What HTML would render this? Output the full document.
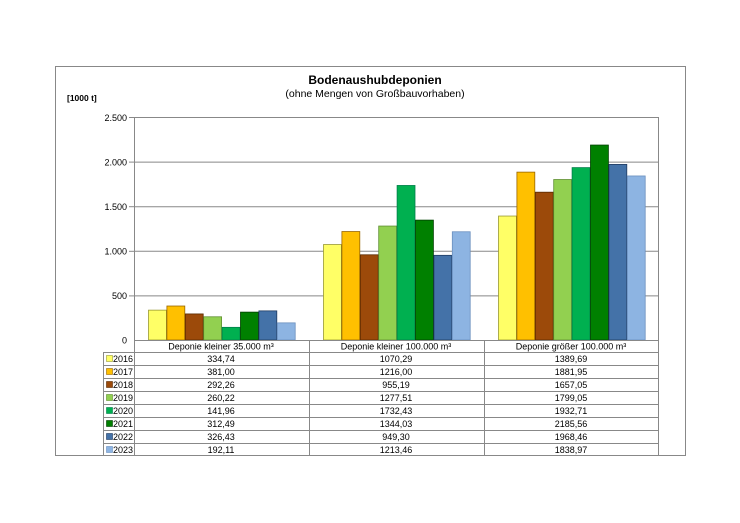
<!DOCTYPE html>
<html><head><meta charset="utf-8"><style>
body{margin:0;background:#fff;width:740px;height:523px;overflow:hidden}
svg{display:block;font-family:"Liberation Sans",sans-serif}
</style></head><body>
<svg id="s" width="740" height="523" viewBox="0 0 740 523">
<rect x="55.5" y="66.5" width="630" height="389" fill="#fff" stroke="#888" stroke-width="1"/>
<text x="375" y="84" text-anchor="middle" font-size="12" font-weight="bold">Bodenaushubdeponien</text>
<text x="375" y="97" text-anchor="middle" font-size="10.5">(ohne Mengen von Großbauvorhaben)</text>
<text x="67" y="101" font-size="8.5" font-weight="bold">[1000 t]</text>
<g stroke="#888" stroke-width="1">
<line x1="134" y1="117.5" x2="659" y2="117.5"/>
<line x1="134" y1="162.1" x2="659" y2="162.1"/>
<line x1="134" y1="206.7" x2="659" y2="206.7"/>
<line x1="134" y1="251.3" x2="659" y2="251.3"/>
<line x1="134" y1="295.9" x2="659" y2="295.9"/>
<line x1="129" y1="117.5" x2="134" y2="117.5"/>
<line x1="129" y1="162.1" x2="134" y2="162.1"/>
<line x1="129" y1="206.7" x2="134" y2="206.7"/>
<line x1="129" y1="251.3" x2="134" y2="251.3"/>
<line x1="129" y1="295.9" x2="134" y2="295.9"/>
</g>
<g font-size="9" text-anchor="end">
<text x="127" y="121">2.500</text>
<text x="127" y="165.5">2.000</text>
<text x="127" y="210">1.500</text>
<text x="127" y="254.5">1.000</text>
<text x="127" y="299">500</text>
<text x="127" y="343.5">0</text>
</g>
<g id="bars"></g>
<g stroke="#888" stroke-width="1" fill="none">
<line x1="134.5" y1="117" x2="134.5" y2="456"/>
<line x1="658.5" y1="117" x2="658.5" y2="456"/>
<line x1="309.5" y1="340" x2="309.5" y2="456"/>
<line x1="484.5" y1="340" x2="484.5" y2="456"/>
<line x1="103.5" y1="352" x2="103.5" y2="456"/>
<line x1="134" y1="340.5" x2="659" y2="340.5"/>
<line x1="103" y1="352.5" x2="659" y2="352.5"/>
<line x1="103" y1="365.5" x2="659" y2="365.5"/>
<line x1="103" y1="378.5" x2="659" y2="378.5"/>
<line x1="103" y1="391.5" x2="659" y2="391.5"/>
<line x1="103" y1="404.5" x2="659" y2="404.5"/>
<line x1="103" y1="417.5" x2="659" y2="417.5"/>
<line x1="103" y1="430.5" x2="659" y2="430.5"/>
<line x1="103" y1="443.5" x2="659" y2="443.5"/>
<line x1="103" y1="455.5" x2="659" y2="455.5"/>
</g>
<g font-size="9" text-anchor="middle">
<text x="221" y="349.5">Deponie kleiner 35.000 m³</text>
<text x="396" y="349.5">Deponie kleiner 100.000 m³</text>
<text x="571" y="349.5">Deponie größer 100.000 m³</text>
</g>
<g font-size="9">
<text x="113" y="362">2016</text><text x="113" y="375">2017</text><text x="113" y="388">2018</text><text x="113" y="401">2019</text>
<text x="113" y="414">2020</text><text x="113" y="427">2021</text><text x="113" y="440">2022</text><text x="113" y="453">2023</text>
</g>
<g font-size="9" text-anchor="middle">
<text x="221" y="362">334,74</text><text x="396" y="362">1070,29</text><text x="571" y="362">1389,69</text>
<text x="221" y="375">381,00</text><text x="396" y="375">1216,00</text><text x="571" y="375">1881,95</text>
<text x="221" y="388">292,26</text><text x="396" y="388">955,19</text><text x="571" y="388">1657,05</text>
<text x="221" y="401">260,22</text><text x="396" y="401">1277,51</text><text x="571" y="401">1799,05</text>
<text x="221" y="414">141,96</text><text x="396" y="414">1732,43</text><text x="571" y="414">1932,71</text>
<text x="221" y="427">312,49</text><text x="396" y="427">1344,03</text><text x="571" y="427">2185,56</text>
<text x="221" y="440">326,43</text><text x="396" y="440">949,30</text><text x="571" y="440">1968,46</text>
<text x="221" y="453">192,11</text><text x="396" y="453">1213,46</text><text x="571" y="453">1838,97</text>
</g>
</svg>
<script>
var cols=["#FFFF66","#FFC000","#9C4A0A","#92D050","#00B050","#008000","#4472A8","#8DB4E2"];
var strokes=["#999933","#996600","#5a2a00","#5f8f30","#00804a","#004000","#1f3a60","#6a8fbf"];
var d=[[334.74,1070.29,1389.69],[381,1216,1881.95],[292.26,955.19,1657.05],[260.22,1277.51,1799.05],[141.96,1732.43,1932.71],[312.49,1344.03,2185.56],[326.43,949.3,1968.46],[192.11,1213.46,1838.97]];
var g=document.getElementById("bars"),h="";
for(var c=0;c<3;c++)for(var s=0;s<8;s++){var v=d[s][c],y=340-v*223/2500,x=134+c*175+14+s*18.4;
h+='<rect x="'+(x+0.5)+'" y="'+y+'" width="17.9" height="'+(340-y)+'" fill="'+cols[s]+'" stroke="'+strokes[s]+'" stroke-width="0.8"/>';}
for(var s=0;s<8;s++)h+='<rect x="106.5" y="'+(355.5+s*13)+'" width="6" height="6" fill="'+cols[s]+'" stroke="'+strokes[s]+'" stroke-width="0.6"/>';
g.innerHTML=h;
</script>
</body></html>
